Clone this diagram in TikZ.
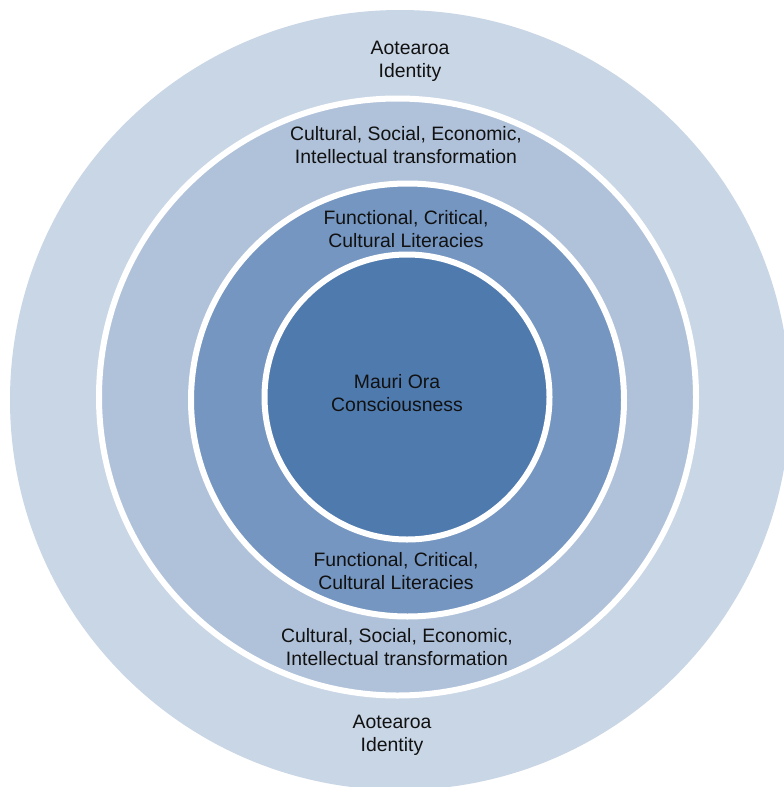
\documentclass[tikz,border=0pt]{standalone}
\usepackage{fontspec}
\setmainfont{Liberation Sans}
\definecolor{c1}{HTML}{C9D6E6}
\definecolor{c2}{HTML}{B0C2DA}
\definecolor{c3}{HTML}{7596C1}
\definecolor{c4}{HTML}{4F7AAE}
\definecolor{txt}{HTML}{111111}
\begin{document}
\begin{tikzpicture}[x=1pt,y=-1pt,
  disc/.style={circle,inner sep=0pt,outer sep=0pt},
  ringed/.style={disc,draw=white,line width=6pt},
  lbl/.style={align=center,inner sep=0pt,text=txt,font=\fontsize{19.4}{23.3}\selectfont}]
\clip (0,0) rectangle (784,787);
\fill[white] (0,0) rectangle (784,787);
\node[disc,fill=c1,minimum size=780pt] (outer) at (400,400) {};
\node[ringed,fill=c2,minimum size=597pt] (second) at (397.5,397) {};
\node[ringed,fill=c3,minimum size=433pt] (third) at (407.5,400) {};
\node[ringed,fill=c4,minimum size=285pt] (inner) at (407,397) {};
\node[lbl] (aotTop) at (410,61) {Aotearoa\\Identity};
\node[lbl] (cultTop) at (406,145) {Cultural, Social, Economic,\\Intellectual transformation};
\node[lbl] (funcTop) at (406,229) {Functional, Critical,\\Cultural Literacies};
\node[lbl] (mauri) at (397,393) {Mauri Ora\\Consciousness};
\node[lbl] (funcBot) at (396,571) {Functional, Critical,\\Cultural Literacies};
\node[lbl] (cultBot) at (397,647) {Cultural, Social, Economic,\\Intellectual transformation};
\node[lbl] (aotBot) at (392,735) {Aotearoa\\Identity};
\end{tikzpicture}
\end{document}
